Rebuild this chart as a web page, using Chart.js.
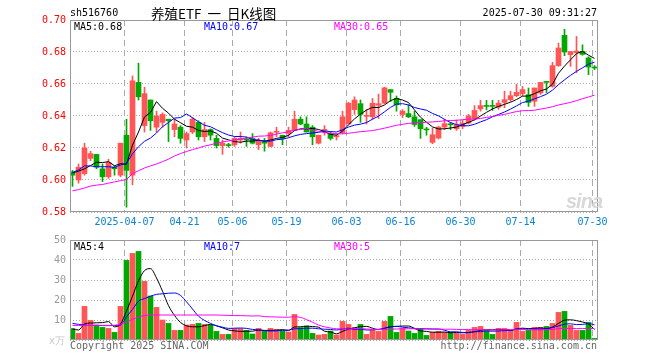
<!DOCTYPE html>
<html>
<head>
<meta charset="utf-8">
<script src="https://cdn.jsdelivr.net/npm/chart.js@4.4.1/dist/chart.umd.min.js"></script>
<style>
  body { margin: 0; background: #fff; }
  #wrap { position: relative; width: 660px; height: 360px; overflow: hidden;
          font-family: 'DejaVu Sans Mono', monospace; font-size: 10px; color: #000; }
  #wrap canvas { position: absolute; left: 0; }
  .t { position: absolute; white-space: pre; line-height: 12px; }
</style>
</head>
<body>
<div id="wrap">
  <canvas id="kChart" width="660" height="232" style="top:0px"></canvas>
  <canvas id="volChart" width="660" height="130" style="top:230px"></canvas>

  <div class="t" style="left:70px;top:7px">sh516760</div>
  <div class="t" style="left:151px;top:4px;line-height:18px;font-family:'Noto Sans CJK SC',sans-serif;font-size:13.5px;word-spacing:3px">养殖ETF 一 日K线图</div>
  <div class="t" style="right:63px;top:7px">2025-07-30 09:31:27</div>

  <div class="t" style="left:74px;top:21px">MA5:0.68</div>
  <div class="t" style="left:204px;top:21px;color:#0000ff">MA10:0.67</div>
  <div class="t" style="left:334px;top:21px;color:#ff00ff">MA30:0.65</div>

  <div class="t" style="left:566px;top:190px;font:italic bold 20px 'Liberation Sans',sans-serif;color:#d8d8d8;letter-spacing:-1px">sina</div>

  <div class="t" style="left:74px;top:241px">MA5:4</div>
  <div class="t" style="left:204px;top:241px;color:#0000ff">MA10:7</div>
  <div class="t" style="left:334px;top:241px;color:#ff00ff">MA30:5</div>

  <div class="t" style="left:49px;top:335px;color:#c8c8c8">x万</div>
  <div class="t" style="left:70px;top:340px;color:#666">Copyright 2025 SINA.COM</div>
  <div class="t" style="right:63px;top:340px;color:#666">http://finance.sina.com.cn</div>
</div>

<script>
// trading days shown on the chart
const dates = [
  '2025-03-24','2025-03-25','2025-03-26','2025-03-27','2025-03-28','2025-03-31',
  '2025-04-01','2025-04-02','2025-04-03','2025-04-07','2025-04-08','2025-04-09','2025-04-10','2025-04-11',
  '2025-04-14','2025-04-15','2025-04-16','2025-04-17','2025-04-18','2025-04-21','2025-04-22','2025-04-23',
  '2025-04-24','2025-04-25','2025-04-28','2025-04-29','2025-04-30',
  '2025-05-06','2025-05-07','2025-05-08','2025-05-09','2025-05-12','2025-05-13','2025-05-14','2025-05-15',
  '2025-05-16','2025-05-19','2025-05-20','2025-05-21','2025-05-22','2025-05-23','2025-05-26','2025-05-27',
  '2025-05-28','2025-05-29','2025-05-30',
  '2025-06-03','2025-06-04','2025-06-05','2025-06-06','2025-06-09','2025-06-10','2025-06-11','2025-06-12',
  '2025-06-13','2025-06-16','2025-06-17','2025-06-18','2025-06-19','2025-06-20','2025-06-23','2025-06-24',
  '2025-06-25','2025-06-26','2025-06-27','2025-06-30',
  '2025-07-01','2025-07-02','2025-07-03','2025-07-04','2025-07-07','2025-07-08','2025-07-09','2025-07-10',
  '2025-07-11','2025-07-14','2025-07-15','2025-07-16','2025-07-17','2025-07-18','2025-07-21','2025-07-22',
  '2025-07-23','2025-07-24','2025-07-25','2025-07-28','2025-07-29','2025-07-30'
];
const tickDates = ['2025-04-07','2025-04-21','2025-05-06','2025-05-19','2025-06-03',
                   '2025-06-16','2025-06-30','2025-07-14','2025-07-30'];
const priceTicks = [0.70, 0.68, 0.66, 0.64, 0.62, 0.60, 0.58];
const volTicks = [50, 40, 30, 20, 10, 0];

const open = [0.605,0.600,0.604,0.6135,0.616,0.607,0.602,0.608,0.603,0.628,
  0.603,0.661,0.634,0.650,0.633,0.636,0.638,0.6315,0.633,0.625,
  0.630,0.636,0.627,0.6315,0.626,0.6215,0.6217,0.622,0.625,0.6255,
  0.626,0.622,0.624,0.621,0.6298,0.628,0.629,0.6313,0.638,0.635,
  0.633,0.623,0.631,0.629,0.627,0.6295,0.635,0.644,0.6477,0.6398,
  0.6395,0.6467,0.648,0.6565,0.651,0.641,0.6415,0.6395,0.6377,0.6317,
  0.6235,0.6262,0.6331,0.6348,0.632,0.6335,0.6356,0.638,0.6444,0.6462,
  0.6462,0.6455,0.6485,0.6502,0.6527,0.654,0.6533,0.6492,0.6544,0.6612,
  0.6585,0.6715,0.6904,0.6783,0.6796,0.6804,0.6763,0.6703];
const high = [0.606,0.610,0.623,0.618,0.616,0.610,0.613,0.609,0.623,0.638,
  0.665,0.673,0.658,0.650,0.643,0.642,0.638,0.638,0.634,0.630,
  0.639,0.637,0.636,0.632,0.628,0.625,0.623,0.627,0.630,0.627,
  0.629,0.626,0.626,0.630,0.633,0.628,0.633,0.643,0.6395,0.6395,
  0.634,0.628,0.634,0.630,0.629,0.643,0.6485,0.652,0.650,0.644,
  0.651,0.6537,0.658,0.6565,0.6525,0.644,0.647,0.643,0.6377,0.633,
  0.6325,0.6335,0.638,0.636,0.6375,0.6375,0.641,0.6465,0.6498,0.6498,
  0.6498,0.6498,0.6555,0.6555,0.6598,0.6585,0.6575,0.6575,0.661,0.6612,
  0.6735,0.6856,0.6942,0.6803,0.6897,0.6845,0.677,0.6715];
const low = [0.596,0.598,0.603,0.612,0.607,0.599,0.601,0.603,0.602,0.583,
  0.597,0.650,0.630,0.631,0.630,0.633,0.624,0.627,0.623,0.620,
  0.629,0.625,0.624,0.625,0.620,0.616,0.6205,0.621,0.623,0.621,
  0.6225,0.619,0.618,0.621,0.627,0.622,0.627,0.631,0.6345,0.630,
  0.622,0.6225,0.628,0.625,0.625,0.629,0.635,0.641,0.636,0.635,
  0.638,0.6385,0.6477,0.649,0.643,0.639,0.639,0.6335,0.626,0.628,
  0.6227,0.6256,0.6315,0.6315,0.631,0.632,0.635,0.6375,0.643,0.6438,
  0.6435,0.6442,0.6452,0.6492,0.652,0.6525,0.646,0.646,0.6535,0.6545,
  0.658,0.671,0.6777,0.671,0.667,0.678,0.6658,0.669];
const close = [0.603,0.608,0.620,0.6165,0.608,0.602,0.611,0.607,0.623,0.606,
  0.662,0.652,0.654,0.637,0.640,0.641,0.637,0.635,0.626,0.629,
  0.638,0.627,0.6315,0.628,0.6215,0.623,0.6215,0.626,0.626,0.625,
  0.623,0.6245,0.623,0.6295,0.630,0.626,0.631,0.638,0.635,0.630,
  0.627,0.628,0.6315,0.626,0.6277,0.6395,0.648,0.650,0.641,0.640,
  0.648,0.6477,0.6576,0.6548,0.647,0.643,0.6395,0.6347,0.632,0.6313,
  0.6283,0.6331,0.6352,0.6345,0.6346,0.6356,0.640,0.6435,0.6465,0.646,
  0.646,0.648,0.6502,0.6527,0.6548,0.6565,0.6485,0.6575,0.661,0.661,
  0.6715,0.6825,0.680,0.6803,0.6806,0.6785,0.6706,0.670];

const ma5 = [0.6045,0.6055,0.6070,0.6090,0.6111,0.6109,0.6115,0.6089,0.6102,0.6098,
  0.6218,0.6300,0.6394,0.6422,0.6490,0.6448,0.6418,0.6380,0.6358,0.6336,
  0.6330,0.6310,0.6303,0.6307,0.6292,0.6262,0.6251,0.6240,0.6236,0.6243,
  0.6243,0.6249,0.6243,0.6250,0.6260,0.6266,0.6279,0.6309,0.6320,0.6320,
  0.6322,0.6316,0.6303,0.6285,0.6280,0.6305,0.6345,0.6382,0.6412,0.6437,
  0.6454,0.6453,0.6469,0.6496,0.6510,0.6500,0.6484,0.6438,0.6392,0.6361,
  0.6332,0.6319,0.6320,0.6325,0.6331,0.6346,0.6360,0.6376,0.6400,0.6423,
  0.6444,0.6460,0.6473,0.6486,0.6503,0.6524,0.6525,0.6540,0.6557,0.6569,
  0.6599,0.6667,0.6712,0.6751,0.6790,0.6804,0.6780,0.6760];
const ma10 = [0.6046,0.6063,0.6088,0.6088,0.6083,0.6083,0.6083,0.6079,0.6094,0.6105,
  0.6164,0.6208,0.6242,0.6262,0.6294,0.6333,0.6359,0.6387,0.6390,0.6413,
  0.6389,0.6364,0.6342,0.6333,0.6314,0.6296,0.6281,0.6272,0.6272,0.6268,
  0.6253,0.6250,0.6242,0.6243,0.6252,0.6255,0.6264,0.6276,0.6285,0.6290,
  0.6294,0.6298,0.6306,0.6303,0.6300,0.6314,0.6331,0.6343,0.6349,0.6359,
  0.6380,0.6399,0.6426,0.6454,0.6474,0.6477,0.6469,0.6453,0.6444,0.6436,
  0.6416,0.6401,0.6379,0.6359,0.6346,0.6339,0.6339,0.6348,0.6363,0.6377,
  0.6395,0.6410,0.6425,0.6443,0.6463,0.6484,0.6493,0.6507,0.6521,0.6536,
  0.6562,0.6596,0.6626,0.6654,0.6679,0.6701,0.6724,0.6736];
const ma30 = [0.5932,0.5940,0.5950,0.5962,0.5968,0.5972,0.5980,0.5988,0.5996,0.6003,
  0.6040,0.6058,0.6075,0.6088,0.6100,0.6115,0.6130,0.6150,0.6165,0.6178,
  0.6190,0.6200,0.6212,0.6220,0.6230,0.6238,0.6244,0.6250,0.6256,0.6262,
  0.6268,0.6274,0.6275,0.6279,0.6287,0.6295,0.6301,0.6312,0.6316,0.6324,
  0.6312,0.6304,0.6296,0.6293,0.6289,0.6288,0.6292,0.6297,0.6302,0.6305,
  0.6309,0.6316,0.6324,0.6333,0.6342,0.6348,0.6354,0.6357,0.6359,0.6361,
  0.6363,0.6366,0.6370,0.6372,0.6373,0.6377,0.6380,0.6381,0.6385,0.6391,
  0.6397,0.6404,0.6410,0.6419,0.6428,0.6433,0.6434,0.6436,0.6443,0.6450,
  0.6458,0.6469,0.6477,0.6485,0.6496,0.6508,0.6519,0.6530];

// volume, in 万
const vol = [5.7,3.3,16.8,9.8,7.5,6.3,5.8,3.8,16.8,39.8,
  43.3,44.3,29.3,22,16.3,10,8.3,4.8,4.8,7.5,
  7.8,8.3,7.8,7.5,4.3,2.8,2.8,5.7,5.7,4.8,
  3,5.8,4.5,5.8,5.3,4.5,4,12.8,6.2,7,
  3.3,2.5,2.8,4.5,2.5,9.3,7.8,6.2,7.8,2.8,
  4.8,4.3,9.3,11.8,3.8,5.8,4.5,3.3,5.8,2.3,
  3.8,4.3,3.8,3.8,3.5,2.8,4.8,6.3,6.8,4.8,
  2.8,5.8,5.8,4.8,8.8,4.3,4.8,6.3,6.3,6.8,
  8.3,13.8,14.3,7.3,4.8,4.8,8.8,0.8];
const vma5 = [5.5,5.0,8.0,8.5,8.6,8.7,9.2,6.6,8.0,14.5,
  21.9,29.6,34.7,35.7,31.0,24.4,17.2,12.3,8.8,7.1,
  6.6,6.6,7.2,7.8,7.1,6.1,5.0,4.6,4.3,4.4,
  4.4,5.0,4.8,4.8,4.9,5.2,4.8,6.5,6.6,6.9,
  6.7,6.4,4.4,4.0,3.1,4.3,5.4,6.1,6.7,6.8,
  5.9,5.2,5.8,6.6,6.8,7.0,7.0,5.8,4.6,4.3,
  3.9,3.9,4.0,3.6,3.8,3.6,3.7,4.2,4.8,5.1,
  5.1,5.3,5.2,4.8,5.6,5.9,5.7,5.8,6.1,5.7,
  6.5,8.3,9.9,10.1,9.7,9.0,8.0,5.3];
const vma10 = [8.3,7.8,7.5,7.3,7.3,7.2,7.2,7.2,7.5,11.6,
  15.3,19.4,20.7,21.9,22.8,23.1,23.4,23.5,22.3,19.1,
  15.5,11.9,9.8,8.3,7.1,6.4,5.8,5.9,6.0,5.8,
  5.3,5.0,4.7,4.5,4.6,4.8,4.9,5.6,5.7,5.9,
  5.9,5.6,5.4,5.3,5.0,5.5,5.9,5.2,5.4,5.0,
  5.1,5.3,5.9,6.7,6.8,6.4,6.1,5.8,5.6,5.6,
  5.5,5.5,4.9,4.1,4.1,3.8,3.8,4.1,4.2,4.5,
  4.4,4.5,4.7,4.8,5.4,5.5,5.5,5.5,5.5,5.7,
  6.2,7.0,7.9,8.1,7.7,7.8,8.2,7.6];
const vma30 = [7.3,7.3,7.3,7.3,7.3,7.3,7.3,7.4,7.9,8.9,
  10.3,11.5,12.2,12.5,12.5,12.5,12.5,12.5,12.5,12.5,
  12.5,12.5,12.5,12.5,12.5,12.4,12.3,12.2,12.2,12.1,
  12.0,12.1,11.7,11.6,11.5,11.4,11.4,11.7,11.3,10.2,
  8.9,7.5,6.6,6.0,5.6,5.6,5.5,5.6,5.7,5.5,
  5.4,5.3,5.3,5.5,5.5,5.6,5.6,5.6,5.6,5.5,
  5.5,5.4,5.4,5.4,5.3,5.2,5.3,5.1,5.1,5.0,
  5.0,5.1,5.2,5.2,5.4,5.2,5.1,5.1,5.1,5.2,
  5.3,5.7,5.8,5.7,5.7,5.7,5.8,5.7];

const RED = '#ff5555';
const GREEN = '#00a800';
const MONO = "'DejaVu Sans Mono', monospace";

const candleColors = close.map((c, i) => c > open[i] ? RED : GREEN);
const pts = arr => arr.map((v, i) => ({ x: i, y: v }));

// plot box border, drawn over the marks
const framePlugin = {
    id: 'frame',
    afterDatasetsDraw(chart) {
        const { ctx, chartArea: a } = chart;
        ctx.save();
        ctx.strokeStyle = '#999999';
        ctx.lineWidth = 1;
        ctx.strokeRect(a.left + 0.5, a.top + 0.5, a.right - a.left - 1, a.bottom - a.top - 1);
        ctx.restore();
    }
};

function xAxis(showLabels) {
    return {
        type: 'linear',
        min: -0.4167,
        max: 87.5833,
        offset: false,
        afterBuildTicks: s => { s.ticks = tickDates.map(d => ({ value: dates.indexOf(d) - 1 / 3 })); },
        afterFit: s => { s.height = showLabels ? 20 : 0; },
        grid: { color: '#aaaaaa', drawTicks: false, offset: false },
        border: { display: false, dash: [6, 4] },
        ticks: {
            display: showLabels,
            autoSkip: false,
            maxRotation: 0,
            padding: 4,
            color: '#0a84d0',
            font: { family: MONO, size: 10 },
            callback: (v, i) => i === 0 ? tickDates[i] : tickDates[i].slice(5)
        }
    };
}

function lineSet(data, color, smooth) {
    return {
        type: 'line',
        data: pts(data),
        borderColor: color,
        borderWidth: 1,
        pointRadius: 0,
        cubicInterpolationMode: smooth ? 'monotone' : 'default',
        tension: 0,
        order: 1
    };
}

const common = {
    responsive: false,
    animation: false,
    events: [],
    plugins: { legend: { display: false }, tooltip: { enabled: false } }
};

new Chart(document.getElementById('kChart'), {
    type: 'bar',
    data: {
        datasets: [
            {
                data: dates.map((d, i) => ({ x: i, y: [low[i], high[i]] })),
                backgroundColor: candleColors,
                barThickness: 1,
                grouped: false,
                order: 3
            },
            {
                data: dates.map((d, i) => ({ x: i, y: [open[i], close[i]] })),
                backgroundColor: candleColors,
                barThickness: 5,
                minBarLength: 1,
                grouped: false,
                order: 2
            },
            lineSet(ma30, '#ff00ff', false),
            lineSet(ma10, '#0000ff', false),
            lineSet(ma5, '#000000', false)
        ]
    },
    options: {
        ...common,
        layout: { padding: { left: 0, right: 62, top: 20, bottom: 0 } },
        scales: {
            x: xAxis(true),
            y: {
                min: 0.58,
                max: 0.70,
                afterBuildTicks: s => { s.ticks = priceTicks.map(v => ({ value: v })); },
                afterFit: s => { s.width = 70; },
                grid: { color: '#aaaaaa', drawTicks: false },
                border: { display: false, dash: [1, 2] },
                ticks: {
                    color: '#ff0000',
                    padding: 4,
                    font: { family: MONO, size: 10 },
                    callback: v => v.toFixed(2)
                }
            }
        }
    },
    plugins: [framePlugin]
});

new Chart(document.getElementById('volChart'), {
    type: 'bar',
    data: {
        datasets: [
            {
                data: pts(vol),
                backgroundColor: candleColors,
                barThickness: 5,
                grouped: false,
                order: 2
            },
            lineSet(vma30, '#ff00ff', true),
            lineSet(vma10, '#0000ff', true),
            lineSet(vma5, '#000000', true)
        ]
    },
    options: {
        ...common,
        layout: { padding: { left: 0, right: 62, top: 10, bottom: 20 } },
        scales: {
            x: xAxis(false),
            y: {
                min: 0,
                max: 50,
                afterBuildTicks: s => { s.ticks = volTicks.map(v => ({ value: v })); },
                afterFit: s => { s.width = 70; },
                grid: { color: '#aaaaaa', drawTicks: false },
                border: { display: false, dash: [1, 2] },
                ticks: {
                    color: '#999999',
                    padding: 4,
                    font: { family: MONO, size: 10 },
                    callback: v => v === 0 ? '' : String(v)
                }
            }
        }
    },
    plugins: [framePlugin]
});
</script>
</body>
</html>
